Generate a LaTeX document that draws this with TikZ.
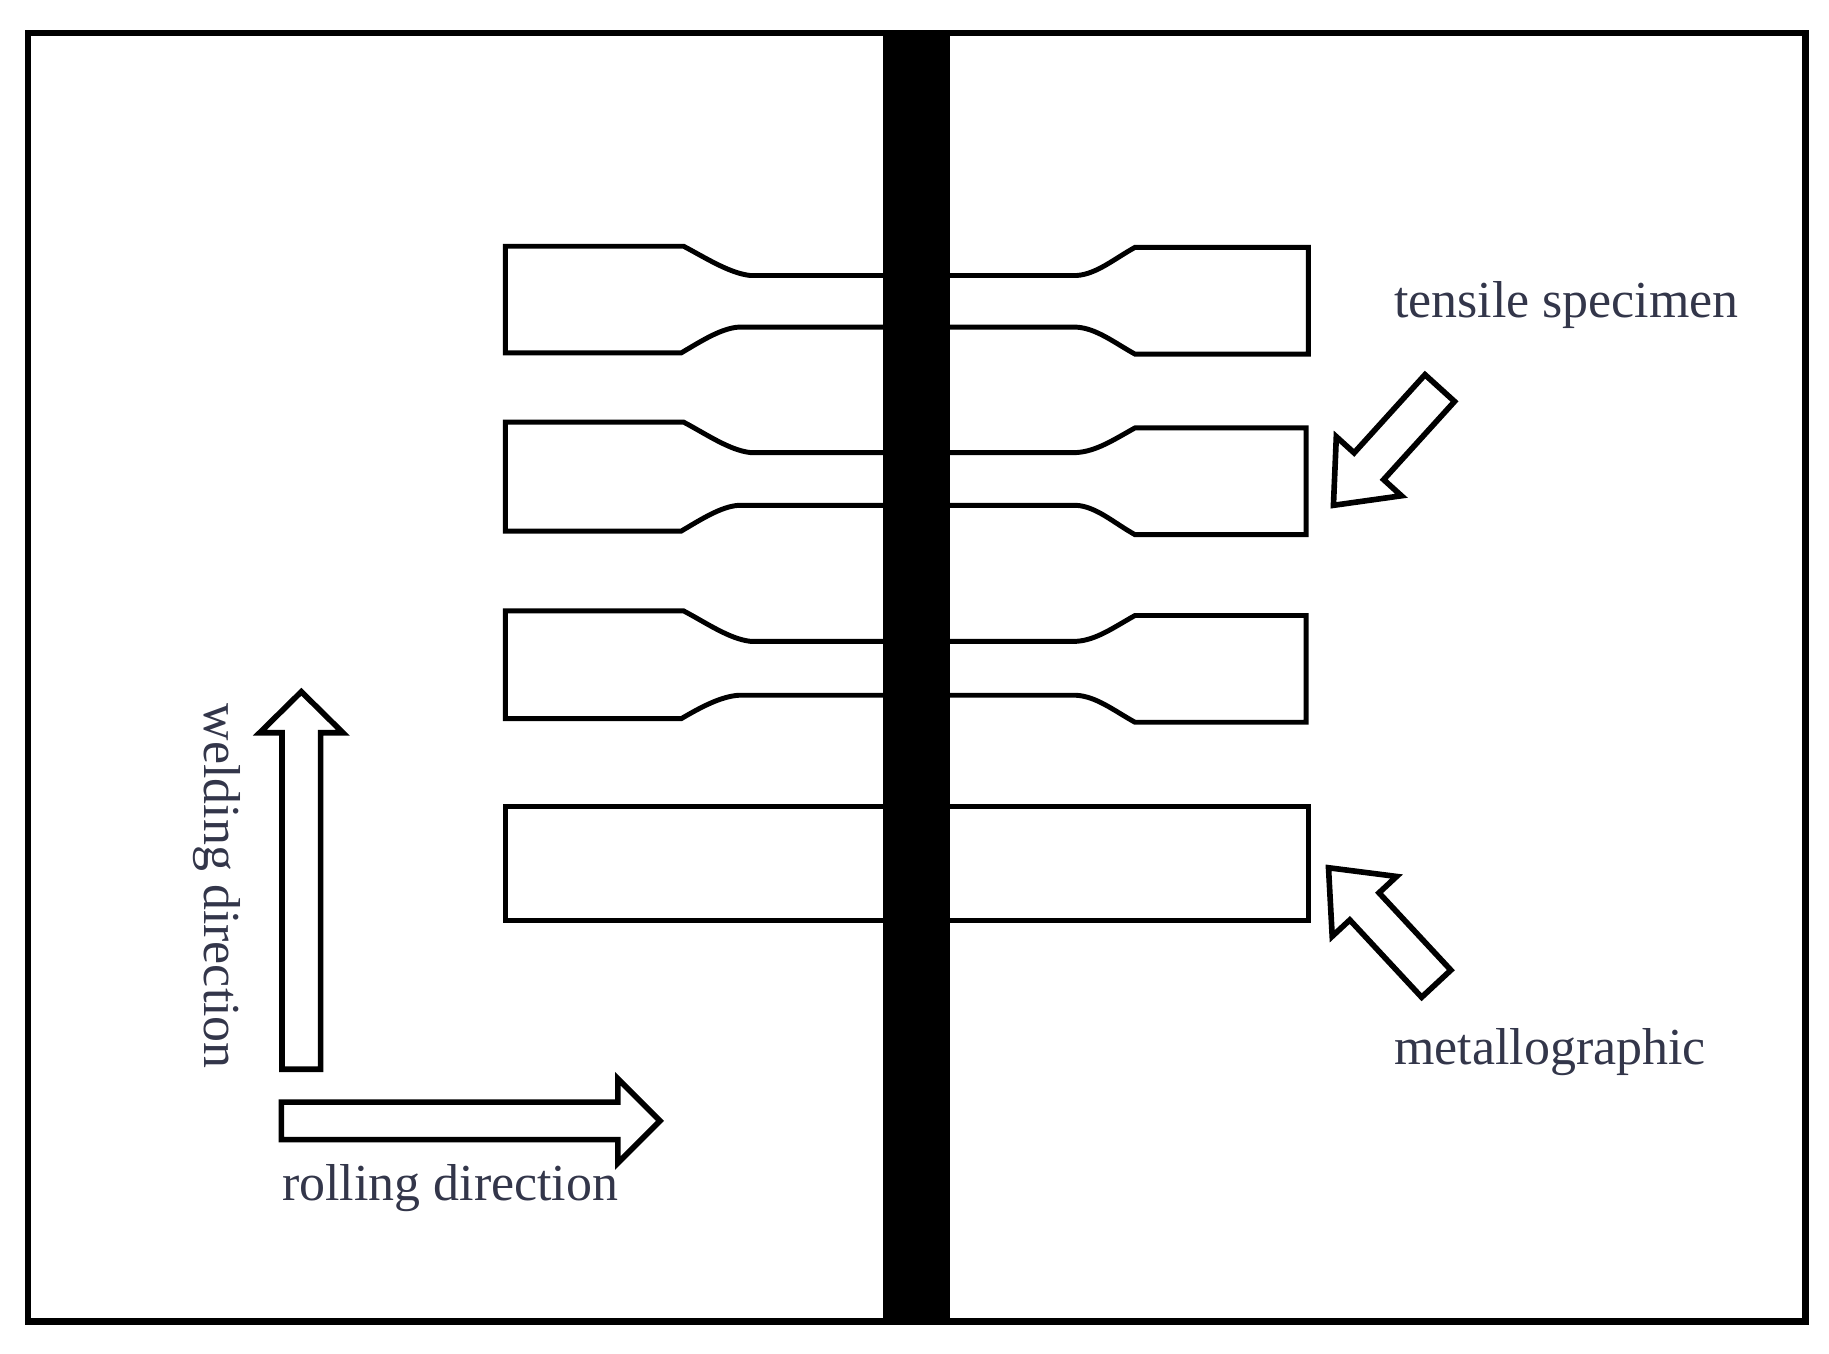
\documentclass[tikz,border=0pt]{standalone}
\usepackage{fontspec}
\setmainfont{Liberation Serif}
\definecolor{txt}{HTML}{33364A}
\begin{document}
\begin{tikzpicture}[x=0.05cm,y=-0.05cm,
  frame/.style={line width=0.28cm},
  spec/.style={line width=0.21cm,line join=miter},
  barrow/.style={line width=0.24cm,fill=white,line join=miter},
  lab/.style={text=txt,font=\fontsize{63}{66}\selectfont,inner sep=0pt}]
\useasboundingbox (0,0) rectangle (1560,1154.8);
\draw[frame] (24,28) rectangle (1540,1127);
\fill (753,28) rectangle (810,1127);
% specimens: left
\foreach \t/\b/\nt/\nb in {210/301/235/279,360/453/386/431,521/613/547/593}{
 \draw[spec] (753,\nt) -- (640,\nt) .. controls (622,\nt-2) and (602,\t+10) .. (583,\t) -- (431,\t) -- (431,\b) -- (581,\b) .. controls (598,\b-10) and (615,\nb+1) .. (630,\nb) -- (753,\nb);
}
\foreach \t/\b/\nt/\nb/\x in {211/302/235/279/1116,365/456/386/431/1114,525/616/547/593/1114}{
 \draw[spec] (810,\nt) -- (918,\nt) .. controls (935,\nt-1) and (950,\t+10) .. (968,\t) -- (\x,\t) -- (\x,\b) -- (968,\b) .. controls (950,\b-10) and (935,\nb+1) .. (918,\nb) -- (810,\nb);
}
\draw[spec] (753,688) -- (431,688) -- (431,785) -- (753,785);
\draw[spec] (810,688) -- (1116,688) -- (1116,785) -- (810,785);
% block arrows
\newcommand\blockarrow[7]{% x y angle L w hw hl
 \begin{scope}[shift={(#1,#2)},rotate=#3]
 \draw[barrow] (0,-#5/2) -- (#4-#7,-#5/2) -- (#4-#7,-#6/2) -- (#4,0) -- (#4-#7,#6/2) -- (#4-#7,#5/2) -- (0,#5/2) -- cycle;
 \end{scope}}
\blockarrow{257}{912}{90}{322}{33}{71}{35}
\blockarrow{240}{956}{0}{323}{32}{72}{36}
\blockarrow{1228}{331}{-132.2}{135}{34}{75}{45}
\blockarrow{1225}{839}{-227.1}{135}{34}{75}{45}
\node[lab] (ts) at (1336,260) {tensile specimen};
\node[lab] (mg) at (1322,897) {metallographic};
\node[lab] (rd) at (384,1013) {rolling direction};
\node[lab,rotate=-90] (wd) at (185,756) {welding direction};
\end{tikzpicture}
\end{document}
